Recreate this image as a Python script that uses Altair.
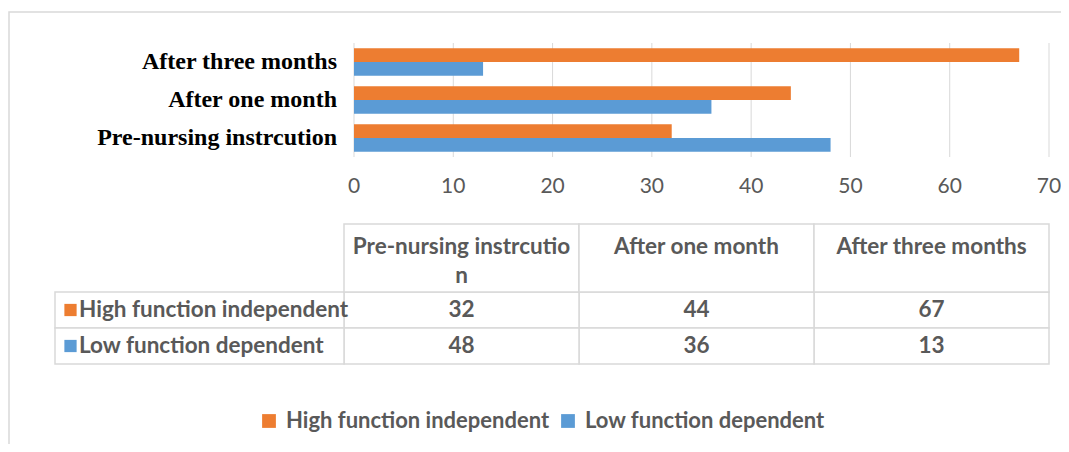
import altair as alt
import pandas as pd

periods = ["After three months", "After one month", "Pre-nursing instrcution"]
table_periods = ["Pre-nursing instrcution", "After one month", "After three months"]
header_text = ["Pre-nursing instrcutio\nn", "After one month", "After three months"]
series = ["High function independent", "Low function dependent"]
high_values = [67, 44, 32]   # aligned with periods
low_values = [13, 36, 48]
ticks = [0, 10, 20, 30, 40, 50, 60, 70]
colors = ["#ED7D31", "#5B9BD5"]

rows = []
for p, h, l in zip(periods, high_values, low_values):
    rows.append({"period": p, "series": series[0], "value": h})
    rows.append({"period": p, "series": series[1], "value": l})
df = pd.DataFrame(rows)
tick_df = pd.DataFrame({"tick": ticks})
period_df = pd.DataFrame({"period": periods})
header_df = pd.DataFrame({"period": table_periods, "label": header_text})
series_df = pd.DataFrame({"series": series})

GRAY = "#595959"
LINE = "#d9d9d9"
SANS = "Lato"
TFS = 22.5

xq = alt.Scale(domain=[0, 70], range=[346, 1041])
yb = alt.Scale(domain=periods, range=[35, 149], paddingInner=0.27, paddingOuter=0.135)
color_scale = alt.Scale(domain=series, range=colors)

border = alt.Chart(pd.DataFrame({"a": [0]})).mark_rect(
    fill="white", stroke="#d9d9d9", strokeWidth=1.5
).encode(x=alt.value(1), x2=alt.value(1100), y=alt.value(4), y2=alt.value(600))

grid = alt.Chart(tick_df).mark_rule(color=LINE, strokeWidth=1).encode(
    x=alt.X("tick:Q", scale=xq, axis=None),
    y=alt.value(35), y2=alt.value(149),
)

bars = alt.Chart(df).mark_bar().encode(
    x=alt.X("value:Q", scale=xq, axis=None),
    y=alt.Y("period:N", scale=yb, axis=None),
    yOffset=alt.YOffset("series:N", scale=alt.Scale(domain=series, paddingInner=0, paddingOuter=0)),
    color=alt.Color(
        "series:N", scale=color_scale,
        legend=alt.Legend(
            title=None, orient="none", legendX=250, legendY=402, direction="horizontal",
            symbolType="square", symbolSize=190, symbolStrokeWidth=0,
            labelFont=SANS, labelFontWeight="bold", labelFontSize=22, labelColor=GRAY,
            labelOffset=6, columnPadding=7, padding=0, labelLimit=400,
        ),
    ),
)

cat_labels = alt.Chart(period_df).mark_text(
    align="right", baseline="middle", font="Liberation Serif", fontWeight="bold",
    fontSize=24, color="black"
).encode(
    y=alt.Y("period:N", scale=yb, axis=None),
    x=alt.value(329),
    text="period:N",
)

tick_labels = alt.Chart(tick_df).mark_text(
    align="center", baseline="middle", font=SANS, fontSize=21, color=GRAY
).encode(
    x=alt.X("tick:Q", scale=xq, axis=None),
    y=alt.value(179),
    text="tick:Q",
)

bar_block = alt.layer(grid, bars, cat_labels, tick_labels)

xc = alt.Scale(domain=table_periods, range=[336, 1041], paddingInner=0, paddingOuter=0)
yr = alt.Scale(domain=series, range=[284, 356], paddingInner=0, paddingOuter=0)

cells = alt.Chart(df).mark_rect(fill="white", stroke=LINE, strokeWidth=1.5).encode(
    x=alt.X("period:N", scale=xc, axis=None),
    y=alt.Y("series:N", scale=yr, axis=None),
)
row_cells = alt.Chart(series_df).mark_rect(fill="white", stroke=LINE, strokeWidth=1.5).encode(
    x=alt.value(47), x2=alt.value(336),
    y=alt.Y("series:N", scale=yr, axis=None),
)
head_cells = alt.Chart(header_df).mark_rect(fill="white", stroke=LINE, strokeWidth=1.5).encode(
    x=alt.X("period:N", scale=xc, axis=None),
    y=alt.value(216), y2=alt.value(284),
)
head_text = alt.Chart(header_df).mark_text(
    align="center", baseline="alphabetic", font=SANS, fontWeight="bold", fontSize=TFS,
    color=GRAY, lineBreak="\n", lineHeight=29
).encode(
    x=alt.X("period:N", scale=xc, axis=None),
    y=alt.value(246),
    text="label:N",
)
val_text = alt.Chart(df).mark_text(
    align="center", baseline="middle", font=SANS, fontWeight="bold", fontSize=TFS, color=GRAY
).encode(
    x=alt.X("period:N", scale=xc, axis=None),
    y=alt.Y("series:N", scale=yr, axis=None),
    text="value:Q",
)
row_sq = alt.Chart(series_df).mark_square(size=150, opacity=1).encode(
    x=alt.value(62.5),
    y=alt.Y("series:N", scale=yr, axis=None),
    color=alt.Color("series:N", scale=color_scale, legend=None),
)
row_text = alt.Chart(series_df).mark_text(
    align="left", baseline="middle", font=SANS, fontWeight="bold", fontSize=TFS, color=GRAY
).encode(
    x=alt.value(71),
    y=alt.Y("series:N", scale=yr, axis=None),
    text="series:N",
)
table_block = alt.layer(cells, row_cells, head_cells, head_text, val_text, row_sq, row_text)

chart = alt.layer(border, bar_block, table_block).resolve_scale(
    x="independent", y="independent"
).properties(
    width=1053, height=436,
    autosize=alt.AutoSizeParams(type="none"),
    padding=0,
).configure_view(stroke=None)

chart.save("out.html", embed_options={"renderer": "svg", "actions": False})
